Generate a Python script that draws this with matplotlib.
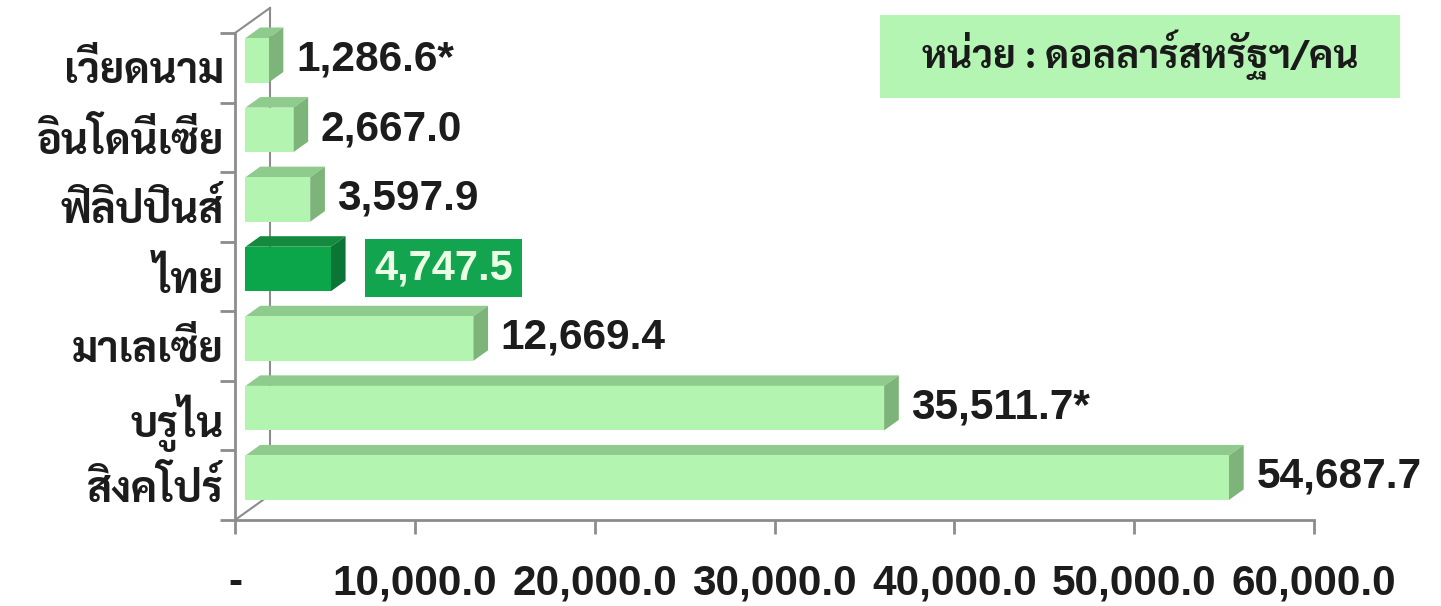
# GDP per capita of ASEAN countries, pseudo-3D horizontal bars
import matplotlib
matplotlib.use("Agg")
import matplotlib.pyplot as plt
from matplotlib.patches import Polygon, Rectangle

# data, bottom to top
countries = ["สิงคโปร์", "บรูไน", "มาเลเซีย", "ไทย", "ฟิลิปปินส์", "อินโดนีเซีย", "เวียดนาม"]
values = [54687.7, 35511.7, 12669.4, 4747.5, 3597.9, 2667.0, 1286.6]
value_labels = ["54,687.7", "35,511.7*", "12,669.4", "4,747.5", "3,597.9", "2,667.0", "1,286.6*"]
highlight = "ไทย"
xticks = [0, 10000, 20000, 30000, 40000, 50000, 60000]
unit_text = "หน่วย : ดอลลาร์สหรัฐฯ/คน"

thai_font = ["Sarabun", "Noto Sans Thai", "DejaVu Sans"]
num_font = ["Liberation Sans", "DejaVu Sans"]

light_front, light_top, light_side = "#b3f5b0", "#8ecb8c", "#7cb47a"
dark_front, dark_top, dark_side = "#0ba64a", "#138a3e", "#0c7434"
axis_grey = "#8c8c8c"

fig = plt.figure(figsize=(14.41, 6.06), dpi=100)
ax = fig.add_axes([235 / 1441, 86 / 606, 1079 / 1441, 487 / 606])
ax.set_xlim(0, 60000)
ax.set_ylim(0, 7)

# depth of the 3D frame in data units
DX, DY = 1946, 0.36
f1, f2 = 0.30, 0.72
bh = 0.64

# back wall edges
ax.plot([0, DX], [7, 7 + DY], color=axis_grey, lw=1.5, clip_on=False, zorder=1)
ax.plot([DX, DX], [DY, 7 + DY], color=axis_grey, lw=1.5, clip_on=False, zorder=1)
ax.plot([0, DX], [0, DY], color=axis_grey, lw=1.5, clip_on=False, zorder=1)

for i, (c, v, lab) in enumerate(zip(countries, values, value_labels)):
    yc = i + 0.5
    x0 = f1 * DX
    yb = yc + f1 * DY - bh / 2
    yt = yb + bh
    bdx, bdy = (f2 - f1) * DX, (f2 - f1) * DY
    if c == highlight:
        fc, tc, sc = dark_front, dark_top, dark_side
    else:
        fc, tc, sc = light_front, light_top, light_side
    top = [(x0, yt), (x0 + v, yt), (x0 + v + bdx, yt + bdy), (x0 + bdx, yt + bdy)]
    side = [(x0 + v, yb), (x0 + v + bdx, yb + bdy), (x0 + v + bdx, yt + bdy), (x0 + v, yt)]
    ax.add_patch(Polygon(top, closed=True, fc=tc, ec="none", zorder=3, clip_on=False))
    ax.add_patch(Polygon(side, closed=True, fc=sc, ec="none", zorder=3, clip_on=False))
    ax.add_patch(Rectangle((x0, yb), v, bh, fc=fc, ec="none", zorder=4, clip_on=False))

    lx = x0 + v + bdx + 700
    ly = yc + 0.12
    if c == highlight:
        ax.text(lx + 900, ly, lab, ha="left", va="center", fontsize=30, fontweight="bold",
                family=num_font, color="#eaffe4", zorder=5, clip_on=False,
                bbox=dict(boxstyle="square,pad=0.22", fc="#12a44e", ec="none"))
    else:
        ax.text(lx, ly, lab, ha="left", va="center", fontsize=30.5, fontweight="bold",
                family=num_font, color="#1c1c1c", zorder=5, clip_on=False)

# axes
for s in ["top", "right"]:
    ax.spines[s].set_visible(False)
for s in ["left", "bottom"]:
    ax.spines[s].set_color(axis_grey)
    ax.spines[s].set_linewidth(2)
ax.set_facecolor("none")

ax.set_xticks(xticks)
ax.set_xticklabels(["-" if t == 0 else f"{t:,.1f}" for t in xticks],
                   fontsize=30.5, fontweight="bold", family=num_font, color="#1c1c1c")
ax.tick_params(axis="x", direction="out", length=10, width=2, color=axis_grey, pad=21)

ax.set_yticks([i + 0.5 for i in range(len(countries))])
ax.set_yticklabels(countries, fontsize=30, fontweight="bold", family=thai_font, color="#1c1c1c")
ax.tick_params(axis="y", which="major", length=0, pad=8)
ax.set_yticks(range(8), minor=True)
ax.tick_params(axis="y", which="minor", direction="out", length=11, width=2, color=axis_grey)

# unit box
fig.patches.append(Rectangle((880 / 1441, 1 - 98 / 606), 520 / 1441, 83 / 606,
                             transform=fig.transFigure, fc="#b5f5b4", ec="none"))
fig.text(1140 / 1441, 1 - 55 / 606, unit_text, ha="center", va="center", fontsize=28,
         fontweight="bold", family=thai_font, color="#1a1a1a")

fig.savefig("out.png", dpi=100)
